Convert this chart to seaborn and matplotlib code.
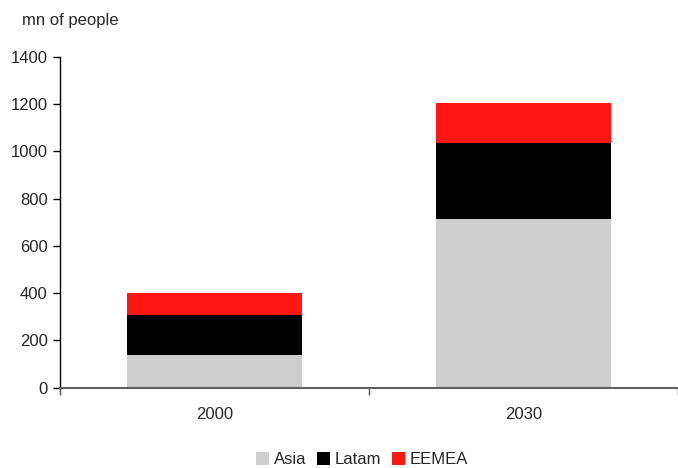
import numpy as np
import pandas as pd
import seaborn as sns
import matplotlib
matplotlib.use("Agg")
import matplotlib.pyplot as plt
from matplotlib.patches import Patch

years = ["2000", "2030"]
asia = [138, 713]
latam = [170, 323]
eemea = [92, 167]
series = ["Asia", "Latam", "EEMEA"]
colors = {"Asia": "#cecece", "Latam": "#000000", "EEMEA": "#ff1611"}
yticks = [0, 200, 400, 600, 800, 1000, 1200, 1400]

sns.set_theme(style="white")
plt.rcParams["font.family"] = ["Liberation Sans", "DejaVu Sans"]

asia_a = np.array(asia)
latam_top = asia_a + np.array(latam)
total = latam_top + np.array(eemea)

df = pd.DataFrame({
    "year": years * 3,
    "value": list(total) + list(latam_top) + list(asia_a),
    "layer": ["EEMEA"] * 2 + ["Latam"] * 2 + ["Asia"] * 2,
})

fig = plt.figure(figsize=(6.78, 4.68), dpi=100)
ax = fig.add_axes([0.0885, 0.1716, 0.9115, 0.7074])

for layer in ["EEMEA", "Latam", "Asia"]:
    sub = df[df["layer"] == layer]
    sns.barplot(data=sub, x="year", y="value", color=colors[layer],
                width=0.566, ax=ax, saturation=1, errorbar=None,
                linewidth=0, edgecolor="none")

fs = 12
ax.set_xlim(-0.5, 1.5)
ax.set_ylim(0, 1400)
ax.set_yticks(yticks)
ax.set_yticklabels([str(t) for t in yticks], fontsize=fs)
ax.set_xlabel("")
ax.set_ylabel("")
ax.set_xticks([0, 1])
ax.set_xticklabels(years, fontsize=fs)
ax.tick_params(axis="x", which="major", length=0, pad=14)
ax.set_xticks([-0.5, 0.5, 1.5], minor=True)
ax.tick_params(axis="x", which="minor", direction="out", length=5, width=1, color="#505050", bottom=True)
ax.tick_params(axis="y", direction="out", length=5, width=1, color="#000000", left=True, pad=4)

for s in ["top", "right"]:
    ax.spines[s].set_visible(False)
ax.spines["left"].set_color("#000000")
ax.spines["left"].set_linewidth(1.0)
ax.spines["bottom"].set_color("#606060")
ax.spines["bottom"].set_linewidth(1.5)
ax.spines["bottom"].set_zorder(5)

fig.text(0.033, 0.957, "mn of people", fontsize=fs, ha="left", va="center")

handles = [Patch(facecolor=colors[s], edgecolor="none") for s in series]
fig.legend(handles, series, loc="lower center", bbox_to_anchor=(0.534, -0.03),
           ncol=3, frameon=False, fontsize=fs, handlelength=0.8, handleheight=0.8,
           handletextpad=0.3, columnspacing=0.6)

fig.savefig("out.png", dpi=100)
